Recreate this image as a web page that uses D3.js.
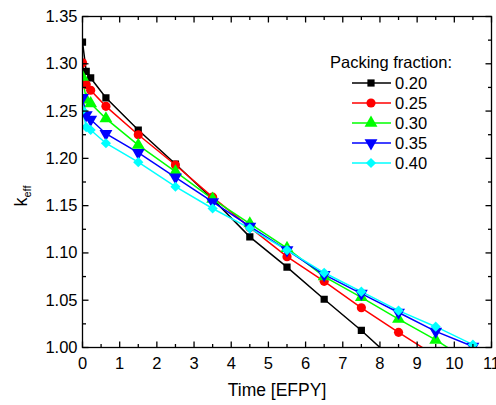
<!DOCTYPE html>
<html><head><meta charset="utf-8">
<script src="https://cdn.jsdelivr.net/npm/d3@7"></script>
<style>body{margin:0;background:#fff}svg{display:block}text{font-family:"Liberation Sans",Arial,sans-serif;fill:#000}</style>
</head><body>
<script>
const times = [0, 0.1, 0.22, 0.63, 1.5, 2.5, 3.5, 4.5, 5.5, 6.5, 7.5, 8.5, 9.5, 10.5];
const labels = ["0.20", "0.25", "0.30", "0.35", "0.40"];
const k020 = [1.323, 1.292, 1.285, 1.264, 1.230, 1.194, 1.157, 1.117, 1.085, 1.051, 1.018, 0.982];
const k025 = [1.301, 1.278, 1.272, 1.255, 1.225, 1.193, 1.159, 1.127, 1.096, 1.070, 1.042, 1.016, 0.991];
const k030 = [1.286, 1.262, 1.258, 1.242, 1.214, 1.186, 1.157, 1.131, 1.105, 1.075, 1.053, 1.030, 1.008, 0.983];
const k035 = [1.264, 1.246, 1.241, 1.226, 1.206, 1.180, 1.154, 1.128, 1.103, 1.077, 1.057, 1.037, 1.017, 1.001];
const k040 = [1.251, 1.233, 1.230, 1.216, 1.196, 1.170, 1.147, 1.126, 1.103, 1.079, 1.059, 1.039, 1.022, 1.003];
const xTicks = [0,1,2,3,4,5,6,7,8,9,10,11];
const yTicks = [1.00,1.05,1.10,1.15,1.20,1.25,1.30,1.35];

const seriesVals = [k020, k025, k030, k035, k040];
const colors = ["#000000", "#ff0000", "#00ff00", "#0000ff", "#00ffff"];
const symbols = [d3.symbolSquare, d3.symbolCircle, d3.symbolTriangle, d3.symbolTriangle, d3.symbolSquare];
const symSizes = [52, 66, 72, 72, 52];
const rotations = [0, 0, 0, 180, 45];

const W = 496, H = 405;
const m = {left: 82.5, right: 491.5, top: 16.5, bottom: 347.5};
const svg = d3.select("body").append("svg").attr("width", W).attr("height", H);
const x = d3.scaleLinear().domain([0, 11]).range([m.left, m.right]);
const y = d3.scaleLinear().domain([1.0, 1.35]).range([m.bottom, m.top]);

svg.append("clipPath").attr("id", "clip").append("rect")
  .attr("x", m.left).attr("y", m.top).attr("width", m.right - m.left).attr("height", m.bottom - m.top);

const plot = svg.append("g").attr("clip-path", "url(#clip)");
const line = d3.line().x(d => x(d[0])).y(d => y(d[1]));

seriesVals.forEach((vals, i) => {
  const pts = vals.map((v, j) => [times[j], v]);
  plot.append("path").datum(pts).attr("d", line)
    .attr("fill", "none").attr("stroke", colors[i]).attr("stroke-width", 1.5);
});
seriesVals.forEach((vals, i) => {
  const pts = vals.map((v, j) => [times[j], v]);
  plot.selectAll(null).data(pts).enter().append("path")
    .attr("d", d3.symbol().type(symbols[i]).size(symSizes[i]))
    .attr("transform", d => `translate(${x(d[0])},${y(d[1])}) rotate(${rotations[i]})`)
    .attr("fill", colors[i]);
});

// axes
const tickLen = 6, minorLen = 3.5;
const axG = svg.append("g").attr("stroke", "#000").attr("stroke-width", 1.3);
xTicks.forEach(t => {
  axG.append("line").attr("x1", x(t)).attr("x2", x(t)).attr("y1", m.bottom).attr("y2", m.bottom - tickLen);
  axG.append("line").attr("x1", x(t)).attr("x2", x(t)).attr("y1", m.top).attr("y2", m.top + tickLen);
  if (t < 11) {
    axG.append("line").attr("x1", x(t + 0.5)).attr("x2", x(t + 0.5)).attr("y1", m.bottom).attr("y2", m.bottom - minorLen);
    axG.append("line").attr("x1", x(t + 0.5)).attr("x2", x(t + 0.5)).attr("y1", m.top).attr("y2", m.top + minorLen);
  }
});
yTicks.forEach((t, i) => {
  axG.append("line").attr("x1", m.left).attr("x2", m.left + tickLen).attr("y1", y(t)).attr("y2", y(t));
  axG.append("line").attr("x1", m.right).attr("x2", m.right - tickLen).attr("y1", y(t)).attr("y2", y(t));
  if (i < yTicks.length - 1) {
    const mt = t + 0.025;
    axG.append("line").attr("x1", m.left).attr("x2", m.left + minorLen).attr("y1", y(mt)).attr("y2", y(mt));
    axG.append("line").attr("x1", m.right).attr("x2", m.right - minorLen).attr("y1", y(mt)).attr("y2", y(mt));
  }
});
axG.append("rect").attr("x", m.left).attr("y", m.top).attr("width", m.right - m.left).attr("height", m.bottom - m.top)
  .attr("fill", "none");

svg.selectAll(".xl").data(xTicks).enter().append("text")
  .attr("x", d => x(d)).attr("y", m.bottom + 21).attr("text-anchor", "middle")
  .attr("font-size", 16.5).text(d => d);
svg.selectAll(".yl").data(yTicks).enter().append("text")
  .attr("x", m.left - 5).attr("y", d => y(d) + 5.5).attr("text-anchor", "end")
  .attr("font-size", 16.5).text(d => d.toFixed(2));

svg.append("text").attr("x", (m.left + m.right) / 2 - 10).attr("y", 396).attr("text-anchor", "middle")
  .attr("font-size", 17.5).text("Time [EFPY]");
const yl = svg.append("text").attr("transform", "translate(27,196) rotate(-90)").attr("text-anchor", "middle").attr("font-size", 18);
yl.append("tspan").text("k");
yl.append("tspan").attr("font-size", 11).attr("dy", 4).text("eff");

// legend
svg.append("text").attr("x", 330).attr("y", 68).attr("font-size", 16.5).text("Packing fraction:");
labels.forEach((lab, i) => {
  const ly = 83 + i * 20;
  svg.append("line").attr("x1", 352).attr("x2", 391).attr("y1", ly).attr("y2", ly)
    .attr("stroke", colors[i]).attr("stroke-width", 1.5);
  svg.append("path").attr("d", d3.symbol().type(symbols[i]).size(symSizes[i])())
    .attr("transform", `translate(371,${ly}) rotate(${rotations[i]})`).attr("fill", colors[i]);
  svg.append("text").attr("x", 395).attr("y", ly + 5.5).attr("font-size", 16.5).text(lab);
});
</script>
</body></html>
